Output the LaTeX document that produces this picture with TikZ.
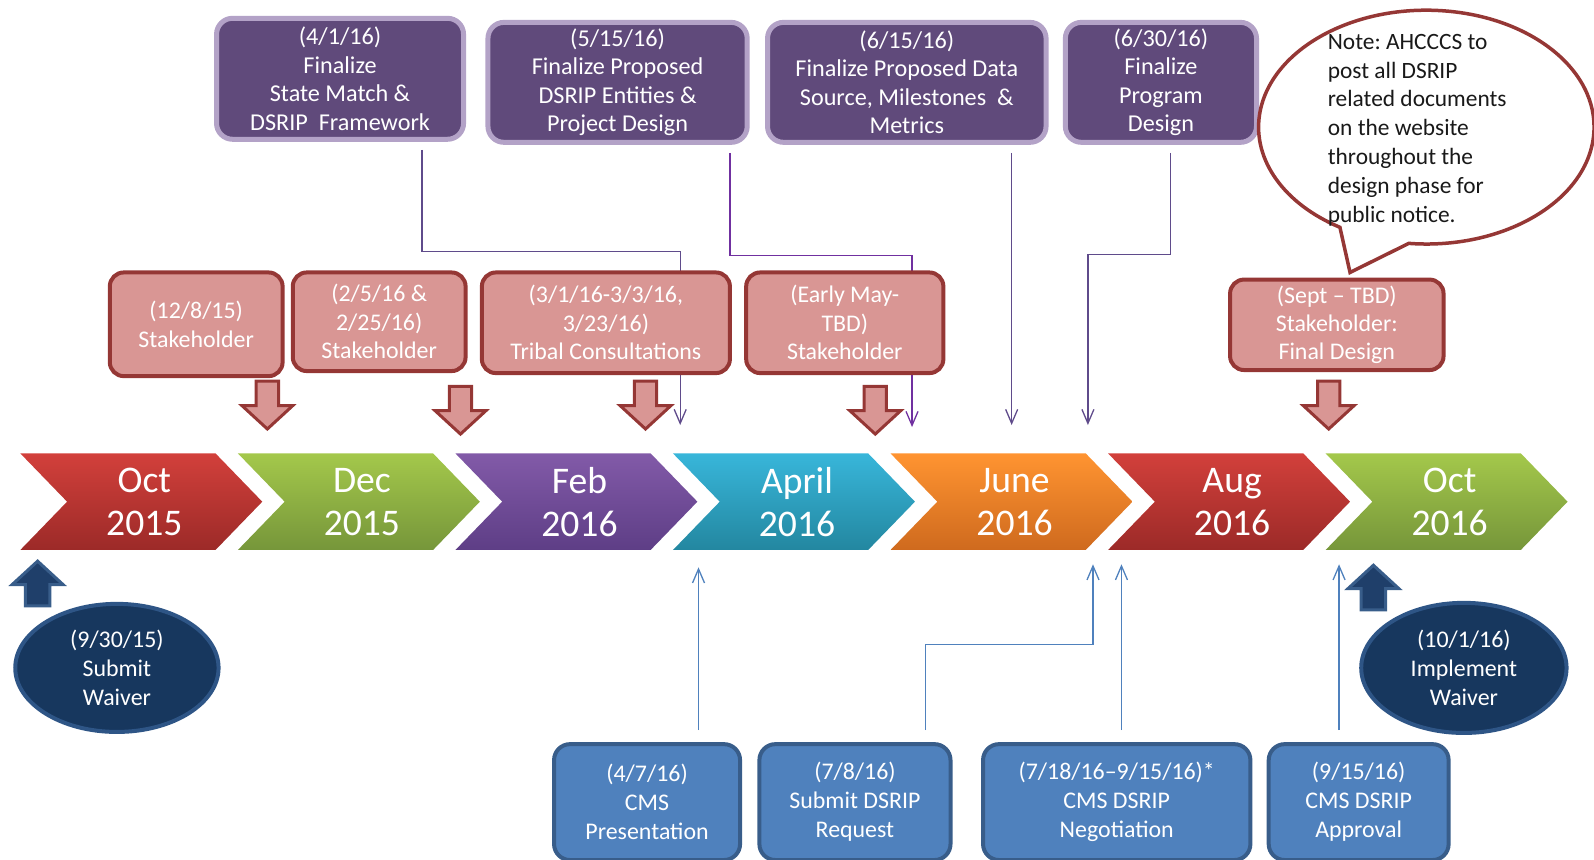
\documentclass[tikz,border=0pt]{standalone}
\usepackage{fontspec}
\setmainfont{Carlito}
\frenchspacing
\usetikzlibrary{arrows.meta,shapes.geometric,calc}
\definecolor{pfill}{HTML}{604A7B}
\definecolor{pborder}{HTML}{B3A2C7}
\definecolor{rfill}{HTML}{D99694}
\definecolor{rborder}{HTML}{953735}
\definecolor{bfill}{HTML}{4F81BD}
\definecolor{bborder}{HTML}{385D8A}
\definecolor{navy}{HTML}{17375E}
\definecolor{navyb}{HTML}{2E5586}
\definecolor{pline1}{HTML}{5F4B8B}
\definecolor{pline2}{HTML}{7030A0}
\definecolor{redT}{HTML}{D2403B}
\definecolor{redB}{HTML}{9C2A28}
\definecolor{grnT}{HTML}{A4C84B}
\definecolor{grnB}{HTML}{76963A}
\definecolor{purT}{HTML}{825AA8}
\definecolor{purB}{HTML}{5E3E86}
\definecolor{cyaT}{HTML}{38B6DA}
\definecolor{cyaB}{HTML}{2387A0}
\definecolor{oraT}{HTML}{FF9431}
\definecolor{oraB}{HTML}{CF6A1E}
\definecolor{uparrow}{HTML}{1F3F6A}
\begin{document}
\begin{tikzpicture}[x=1pt,y=-1pt,scale=1.0167,transform shape,
  pbox/.style={draw=pborder, line width=5pt, fill=pfill, rounded corners=16pt, text=white, align=center, font=\fontsize{23.8}{28}\selectfont, inner sep=0pt},
  rbox/.style={draw=rborder, line width=4pt, fill=rfill, rounded corners=14pt, text=white, align=center, font=\fontsize{23.5}{28}\selectfont, inner sep=0pt},
  bbox/.style={draw=bborder, line width=4pt, fill=bfill, rounded corners=16pt, text=white, align=center, font=\fontsize{23.5}{28.5}\selectfont, inner sep=0pt},
  nell/.style={ellipse, draw=navyb, line width=4pt, fill=navy, text=white, align=center, font=\fontsize{23.5}{28.5}\selectfont, inner sep=0pt},
  chevtext/.style={text=white, align=center, font=\fontsize{37}{42}\selectfont, inner sep=0pt},
  pc/.style={line width=1.3pt, -{Straight Barb[length=14pt,width=12pt]}, shorten <=8pt},
  bc/.style={draw=bfill, line width=1.3pt, -{Straight Barb[length=14pt,width=12pt]}, shorten <=12pt},
  rarrowblk/.style={draw=rborder, fill=rfill, line width=3pt, line join=miter},
  narrowblk/.style={draw=bborder, fill=uparrow, line width=3pt, line join=miter}
]
\useasboundingbox (0,0) rectangle (1568,845);

% chevrons
\foreach \i/\ma/\yr/\tc/\bcol in {0/Oct/2015/redT/redB, 1/Dec/2015/grnT/grnB, 2/Feb/2016/purT/purB, 3/April/2016/cyaT/cyaB, 4/June/2016/oraT/oraB, 5/Aug/2016/redT/redB, 6/Oct/2016/grnT/grnB} {
  \pgfmathsetmacro\xa{20+214*\i}
  \shade[top color=\tc, bottom color=\bcol] (\xa,446) -- (\xa+192,446) -- (\xa+238,493.5) -- (\xa+192,541) -- (\xa,541) -- (\xa+46,493.5) -- cycle;
  \node[chevtext] (chev\i) at (\xa+122,494) {\ma\\\yr};
}

% top purple boxes
\node[pbox, minimum width=243pt, minimum height=119pt] (p1) at (334.5,77.5) {(4/1/16)\\Finalize\\State Match \&\\DSRIP\ \ Framework};
\node[pbox, minimum width=255pt, minimum height=118pt] (p2) at (607.5,81) {(5/15/16)\\Finalize Proposed\\DSRIP Entities \&\\Project Design};
\node[pbox, minimum width=274pt, minimum height=118pt] (p3) at (892,81) {(6/15/16)\\Finalize Proposed Data\\Source, Milestones\ \ \&\\Metrics};
\node[pbox, minimum width=188pt, minimum height=118pt] (p4) at (1142,81) {(6/30/16)\\Finalize\\Program\\Design};

% purple connectors
\coordinate (s1) at (415,0);
\coordinate (s2) at (718,0);
\coordinate (s4) at (1151,0);
\coordinate (t1) at (669,418);
\coordinate (t2) at (897,420);
\coordinate (t3) at (995,418);
\coordinate (t4) at (1070,418);
\draw[pc, draw=pline1] (p1.south -| s1) -- ++(0,108) -| (t1);
\draw[pc, draw=pline2] (p2.south -| s2) -- ++(0,109) -| (t2);
\draw[pc, draw=pline1] (p3.south -| t3) -- (t3);
\draw[pc, draw=pline1] (p4.south -| s4) -- ++(0,108) -| (t4);

% pink boxes
\node[rbox, minimum width=170pt, minimum height=102pt] (r1) at (193,319) {(12/8/15)\\Stakeholder};
\node[rbox, minimum width=170pt, minimum height=97pt] (r2) at (373,316.5) {(2/5/16 \&\\2/25/16)\\Stakeholder};
\node[rbox, minimum width=244pt, minimum height=99pt] (r3) at (596,317.5) {(3/1/16-3/3/16,\\3/23/16)\\Tribal Consultations};
\node[rbox, minimum width=194pt, minimum height=99pt] (r4) at (831,317.5) {(Early May-\\TBD)\\Stakeholder};
\node[rbox, minimum width=210pt, minimum height=89pt] (r5) at (1315,319.5) {(Sept -- TBD)\\Stakeholder:\\Final Design};

% pink down block arrows
\foreach \x/\y in {263/375, 453/380, 635/375, 861/380, 1307/375}
  \draw[rarrowblk] (\x-11,\y) -- (\x+11,\y) -- (\x+11,\y+24) -- (\x+25,\y+24) -- (\x,\y+47) -- (\x-25,\y+24) -- (\x-11,\y+24) -- cycle;

% speech bubble
\filldraw[draw=rborder, fill=white, line width=3.5pt, line join=miter] (1385.8,239.4) arc[start angle=264, end angle=599, x radius=165pt, y radius=115pt] -- (1328,268) -- cycle;
\node[anchor=west, align=left, inner sep=0pt, text=black!90, font=\fontsize{23}{28.4}\selectfont] (note) at (1306,128) {Note: AHCCCS to\\post all DSRIP\\related documents\\on the website\\throughout the\\design phase for\\public notice.};

% navy ellipses and up arrows
\node[nell, minimum width=200pt, minimum height=126pt] (e1) at (115,657) {(9/30/15)\\Submit\\Waiver};
\node[nell, minimum width=202pt, minimum height=128pt] (e2) at (1440,657) {(10/1/16)\\Implement\\Waiver};
\foreach \x/\y in {37/552, 1351/556}
  \draw[narrowblk] (\x,\y) -- (\x+25,\y+23) -- (\x+12,\y+23) -- (\x+12,\y+44) -- (\x-12,\y+44) -- (\x-12,\y+23) -- (\x-25,\y+23) -- cycle;

% bottom blue boxes
\node[bbox, minimum width=183pt, minimum height=114pt] (b1) at (636.5,789) {(4/7/16)\\CMS\\Presentation};
\node[bbox, minimum width=188pt, minimum height=114pt] (b2) at (841,789) {(7/8/16)\\Submit DSRIP\\Request};
\node[bbox, minimum width=263pt, minimum height=114pt] (b3) at (1098.5,789) {(7/18/16--9/15/16)*\\CMS DSRIP\\Negotiation};
\node[bbox, minimum width=177pt, minimum height=114pt] (b4) at (1336.5,789) {(9/15/16)\\CMS DSRIP\\Approval};

% blue connectors
\coordinate (u1) at (687,558);
\coordinate (s5) at (910,0);
\coordinate (u2) at (1075,555);
\coordinate (u3) at (1103,555);
\coordinate (u4) at (1317,555);
\draw[bc] (b1.north -| u1) -- (u1);
\draw[bc] (b2.north -| s5) -- ++(0,-96) -| (u2);
\draw[bc] (b3.north -| u3) -- (u3);
\draw[bc] (b4.north -| u4) -- (u4);
\end{tikzpicture}
\end{document}
